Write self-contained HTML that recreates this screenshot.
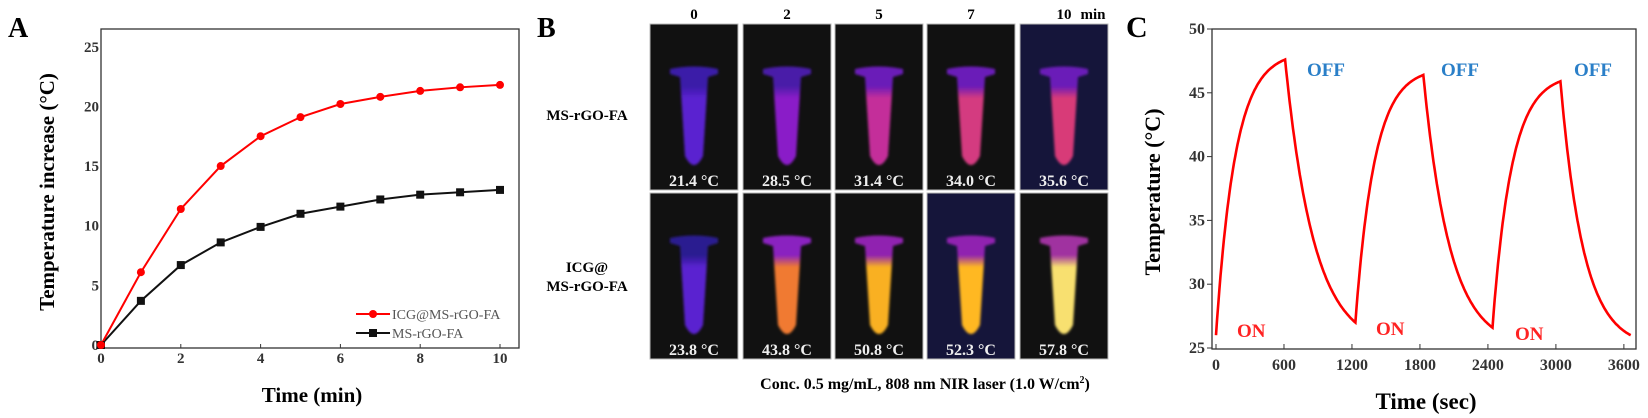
<!DOCTYPE html>
<html><head><meta charset="utf-8"><style>
html,body{margin:0;padding:0;background:#fff;}
svg{display:block;font-family:"Liberation Serif",serif;}
</style></head><body>
<svg id="s" width="1648" height="418" viewBox="0 0 1648 418" xmlns="http://www.w3.org/2000/svg">
<defs>
<filter id="bl" x="-30%" y="-30%" width="160%" height="160%"><feGaussianBlur stdDeviation="1.3"/></filter>
</defs>
<!-- Panel A -->
<text x="8" y="37" font-size="28" font-weight="bold">A</text>
<rect x="101" y="29" width="418" height="319" fill="none" stroke="#333" stroke-width="1.3"/>
<g font-size="15" font-weight="bold" fill="#333" text-anchor="end" id="aytk"></g>
<g font-size="15" font-weight="bold" fill="#333" text-anchor="middle" id="axtk"></g>
<g id="aser"></g>
<text transform="translate(54,192) rotate(-90)" font-size="21" font-weight="bold" text-anchor="middle">Temperature increase (°C)</text>
<text x="312" y="402" font-size="21" font-weight="bold" text-anchor="middle">Time (min)</text>
<line x1="356" y1="314" x2="390" y2="314" stroke="#f00" stroke-width="2"/><circle cx="373" cy="314" r="4" fill="#f00"/>
<text x="392" y="319" font-size="14" fill="#555">ICG@MS-rGO-FA</text>
<line x1="356" y1="333" x2="390" y2="333" stroke="#111" stroke-width="2"/><rect x="369" y="329" width="8" height="8" fill="#111"/>
<text x="392" y="338" font-size="14" fill="#555">MS-rGO-FA</text>

<!-- Panel B -->
<text x="537" y="37" font-size="28" font-weight="bold">B</text>
<g font-size="15" font-weight="bold" text-anchor="middle">
<text x="587" y="120">MS-rGO-FA</text>
<text x="587" y="272">ICG@</text>
<text x="587" y="291">MS-rGO-FA</text>
<text x="694" y="19">0</text><text x="787" y="19">2</text><text x="879" y="19">5</text><text x="971" y="19">7</text><text x="1064" y="19">10</text><text x="1093" y="19">min</text>
<text x="925" y="389" font-size="16">Conc. 0.5 mg/mL, 808 nm NIR laser (1.0 W/cm<tspan dy="-6" font-size="10">2</tspan><tspan dy="6">)</tspan></text>
</g>
<g id="tubes"></g>

<!-- Panel C -->
<text x="1126" y="37" font-size="30" font-weight="bold">C</text>
<rect x="1212" y="29" width="424" height="320" fill="none" stroke="#333" stroke-width="1.3"/>
<g font-size="16" font-weight="bold" fill="#333" text-anchor="end" id="cytk"></g>
<g font-size="16" font-weight="bold" fill="#333" text-anchor="middle" id="cxtk"></g>
<path id="cpath" fill="none" stroke="#f00" stroke-width="2.6"/>
<g font-size="19" font-weight="bold">
<text x="1307" y="76" fill="#2a7fc8">OFF</text><text x="1441" y="76" fill="#2a7fc8">OFF</text><text x="1574" y="76" fill="#2a7fc8">OFF</text>
<text x="1237" y="337" fill="#f22">ON</text><text x="1376" y="335" fill="#f22">ON</text><text x="1515" y="340" fill="#f22">ON</text>
</g>
<text transform="translate(1160,192) rotate(-90)" font-size="22" font-weight="bold" text-anchor="middle">Temperature (°C)</text>
<text x="1426" y="409" font-size="23" font-weight="bold" text-anchor="middle">Time (sec)</text>
</svg>
<script>
var NS="http://www.w3.org/2000/svg";
function el(p,t,a,txt){var e=document.createElementNS(NS,t);for(var k in a)e.setAttribute(k,a[k]);if(txt!=null)e.textContent=txt;document.getElementById(p).appendChild(e);return e;}
// Panel A
var ax=function(t){return 101+t*39.9}, ay=function(v){return 345-v*11.93};
for(var v=0;v<=25;v+=5){el('aytk','text',{x:99,y:ay(v)+5},v);}
for(var t=0;t<=10;t+=2){el('axtk','text',{x:ax(t),y:363},t);el('aser','line',{x1:ax(t),y1:348,x2:ax(t),y2:344,stroke:'#333'});}
var red=[0,6.1,11.4,15,17.5,19.1,20.2,20.8,21.3,21.6,21.8],blk=[0,3.7,6.7,8.6,9.9,11,11.6,12.2,12.6,12.8,13];
function poly(d){return d.map(function(v,i){return ax(i)+','+ay(v)}).join(' ')}
el('aser','polyline',{points:poly(blk),fill:'none',stroke:'#111','stroke-width':2});
el('aser','polyline',{points:poly(red),fill:'none',stroke:'#f00','stroke-width':2});
blk.forEach(function(v,i){el('aser','rect',{x:ax(i)-4,y:ay(v)-4,width:8,height:8,fill:'#111'})});
red.forEach(function(v,i){el('aser','circle',{cx:ax(i),cy:ay(v),r:4,fill:'#f00'})});
// Panel B tubes
var cx=[650,743,835,927,1020],ry=[24,193];
var cols=[[['#3a1aa8','#5a22d0'],['#4a1aa8','#8a1ac8'],['#6a1ab8','#c42f9a'],['#6a1ab8','#d43a80'],['#6a1ab8','#d83a78']],
[['#2a1a90','#5a22d0'],['#8a20c0','#f07a30'],['#9020b0','#f9b020'],['#9020b0','#ffb820'],['#a030a0','#f8e070']]];
var temps=[['21.4 °C','28.5 °C','31.4 °C','34.0 °C','35.6 °C'],['23.8 °C','43.8 °C','50.8 °C','52.3 °C','57.8 °C']];
for(var r=0;r<2;r++)for(var c=0;c<5;c++){
 var X=cx[c],Y=ry[r],bg=(r==0&&c==4)||(r==1&&c==3)?'#15153a':'#111';
 el('tubes','rect',{x:X,y:Y,width:88,height:166,fill:bg,stroke:'#bbb','stroke-width':1});
 var gid='g'+r+c,g=el('tubes','linearGradient',{id:gid,x1:0,y1:0,x2:0,y2:1});
 var s1=document.createElementNS(NS,'stop');s1.setAttribute('offset','0.2');s1.setAttribute('stop-color',cols[r][c][0]);g.appendChild(s1);
 var s2=document.createElementNS(NS,'stop');s2.setAttribute('offset','0.32');s2.setAttribute('stop-color',cols[r][c][1]);g.appendChild(s2);
 var s3=document.createElementNS(NS,'stop');s3.setAttribute('offset','1');s3.setAttribute('stop-color',cols[r][c][1]);g.appendChild(s3);
 var gg=el('tubes','g',{transform:'translate('+X+','+Y+')',filter:'url(#bl)'});
 var d='M20,45 Q44,40 68,45 L68,50 L58,53 L53,132 Q44,150 35,132 L30,53 L20,50 Z';
 var p=document.createElementNS(NS,'path');p.setAttribute('d',d);p.setAttribute('fill','url(#'+gid+')');gg.appendChild(p);
 el('tubes','text',{x:X+44,y:Y+162,'font-size':16,'font-weight':'bold',fill:'#eee','text-anchor':'middle'},temps[r][c]);
}
// Panel C
var cX=function(t){return 1216+t*0.1133}, cY=function(v){return 348-(v-25)*12.76};
for(var v=25;v<=50;v+=5){el('cytk','text',{x:1205,y:cY(v)+5},v);el('cytk','line',{x1:1207,y1:cY(v),x2:1212,y2:cY(v),stroke:'#333'});}
for(var t=0;t<=3600;t+=600){el('cxtk','text',{x:cX(t),y:370},t);el('cxtk','line',{x1:cX(t),y1:349,x2:cX(t),y2:344,stroke:'#333'});}
var segs=[[0,26,47.6,610],[1230,27,46.4,1830],[2440,26.6,45.9,3040]],ends=[1230,2440,3660];
var pts=[];
segs.forEach(function(s,i){
 var t0=s[0],T0=s[1],Tp=s[2],tp=s[3],tau=170,dur=tp-t0,A=(Tp-T0)/(1-Math.exp(-dur/tau));
 for(var t=t0;t<=tp;t+=10)pts.push([t,T0+A*(1-Math.exp(-(t-t0)/tau))]);
 var te=ends[i],Tend=(i<2?segs[i+1][1]:26),Tinf=25,B=(Tp-Tinf),k=(Tend-Tinf)/B;
 var tau3=-(te-tp)/Math.log(k);
 for(var t=tp+10;t<=te;t+=10)pts.push([t,Tinf+B*Math.exp(-(t-tp)/tau3)]);
});
document.getElementById('cpath').setAttribute('d','M'+pts.map(function(p){return cX(p[0]).toFixed(1)+','+cY(p[1]).toFixed(1)}).join(' L'));
</script>
</body></html>
